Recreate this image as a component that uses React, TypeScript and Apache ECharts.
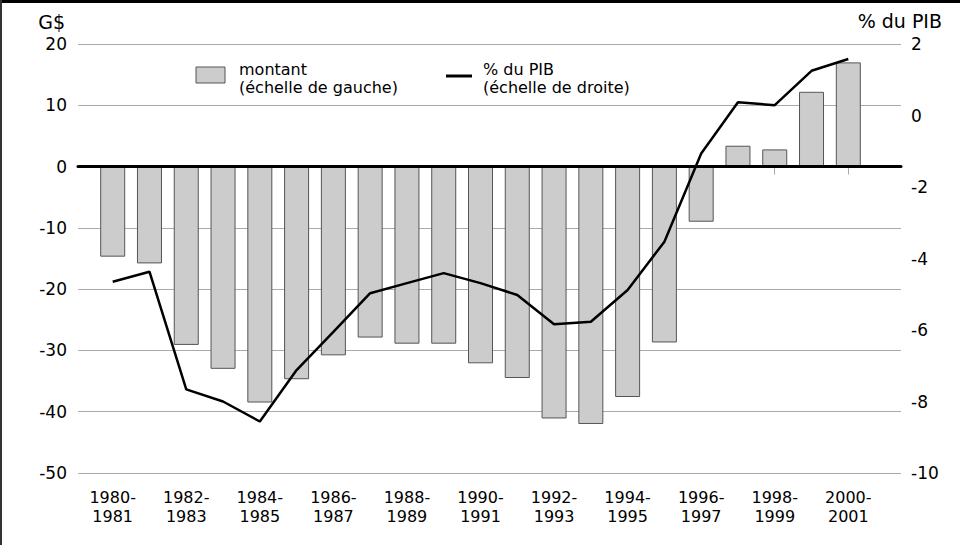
import React, { useEffect, useRef } from 'react';
import * as echarts from 'echarts';

const categories: string[] = [
  '1980-\n1981', '1981-\n1982', '1982-\n1983', '1983-\n1984', '1984-\n1985',
  '1985-\n1986', '1986-\n1987', '1987-\n1988', '1988-\n1989', '1989-\n1990',
  '1990-\n1991', '1991-\n1992', '1992-\n1993', '1993-\n1994', '1994-\n1995',
  '1995-\n1996', '1996-\n1997', '1997-\n1998', '1998-\n1999', '1999-\n2000',
  '2000-\n2001',
];

// montant, G$ (left scale)
const montant: number[] = [
  -14.7, -15.8, -29.1, -33.0, -38.5, -34.7, -30.8, -27.9, -28.9, -28.9,
  -32.1, -34.5, -41.1, -42.0, -37.6, -28.7, -9.0, 3.4, 2.8, 12.2, 17.0,
];

// % du PIB (right scale)
const pctPIB: number[] = [
  -4.65, -4.37, -7.66, -8.0, -8.56, -7.12, -6.05, -4.97, -4.69, -4.41,
  -4.69, -5.02, -5.84, -5.77, -4.88, -3.53, -1.06, 0.37, 0.29, 1.25, 1.58,
];

const leftMin = -50;
const leftMax = 20;
const leftStep = 10;
const rightMin = -10;
const rightMax = 2;
const rightStep = 2;

const FONT = 'DejaVu Sans';

export default function App() {
  const ref = useRef<HTMLDivElement>(null);

  useEffect(() => {
    if (!ref.current) return;
    const chart = echarts.init(ref.current, undefined, { renderer: 'svg' });
    const option: any = {
      animation: false,
      textStyle: { fontFamily: FONT },
      grid: [
        { left: 78, right: 59, top: 44, bottom: 72 },
        { left: 94.3, right: 93.3, top: 44, bottom: 72 },
      ],
      xAxis: [
        {
          type: 'value',
          gridIndex: 0,
          min: 0,
          max: 1,
          z: 10,
          axisLine: {
            show: true,
            onZero: true,
            onZeroAxisIndex: 0,
            lineStyle: { color: '#000', width: 3 },
          },
          axisTick: { show: false },
          axisLabel: { show: false },
          splitLine: { show: false },
        },
        {
          type: 'category',
          gridIndex: 1,
          data: categories,
          axisLine: { show: false },
          axisTick: {
            show: true,
            alignWithLabel: true,
            interval: 1,
            length: 8,
            lineStyle: { color: '#aaa', width: 1 },
          },
          axisLabel: {
            interval: 1,
            margin: 15,
            fontFamily: FONT,
            fontSize: 16,
            lineHeight: 19,
            color: '#000',
          },
        },
      ],
      yAxis: [
        {
          type: 'value',
          gridIndex: 0,
          position: 'left',
          min: leftMin,
          max: leftMax,
          interval: leftStep,
          axisLine: { show: false },
          axisTick: { show: false },
          axisLabel: { margin: 11, fontSize: 17, color: '#000', fontFamily: FONT },
          splitLine: { show: true, lineStyle: { color: '#aaa', width: 1 } },
        },
        {
          type: 'value',
          gridIndex: 0,
          position: 'right',
          min: rightMin,
          max: rightMax,
          interval: rightStep,
          axisLine: { show: false },
          axisTick: { show: false },
          axisLabel: { margin: 10, fontSize: 17, color: '#000', fontFamily: FONT },
          splitLine: { show: false },
        },
        { type: 'value', gridIndex: 1, min: leftMin, max: leftMax, show: false },
        { type: 'value', gridIndex: 1, min: rightMin, max: rightMax, show: false, position: 'right' },
      ],
      series: [
        {
          name: 'montant',
          type: 'bar',
          xAxisIndex: 1,
          yAxisIndex: 2,
          data: montant,
          barWidth: 25,
          itemStyle: { color: '#cccccc', borderColor: '#555', borderWidth: 1 },
        },
        {
          name: '% du PIB',
          type: 'line',
          xAxisIndex: 1,
          yAxisIndex: 3,
          data: pctPIB,
          symbol: 'none',
          z: 12,
          lineStyle: { color: '#000', width: 2.5 },
        },
      ],
      graphic: [
        { type: 'rect', shape: { x: 0, y: 0, width: 960, height: 3 }, style: { fill: '#000' } },
        { type: 'rect', shape: { x: 0, y: 0, width: 2, height: 545 }, style: { fill: '#333' } },
        {
          type: 'text',
          x: 65,
          y: 22,
          style: { text: 'G$', fontSize: 19, fontFamily: FONT, fill: '#000', align: 'right', verticalAlign: 'middle' },
        },
        {
          type: 'text',
          x: 942,
          y: 21,
          style: { text: '% du PIB', fontSize: 19, fontFamily: FONT, fill: '#000', align: 'right', verticalAlign: 'middle' },
        },
        {
          type: 'rect',
          shape: { x: 196, y: 67, width: 29, height: 16 },
          style: { fill: '#cccccc', stroke: '#555', lineWidth: 1 },
        },
        {
          type: 'text',
          x: 239,
          y: 60,
          style: {
            text: 'montant\n(échelle de gauche)',
            fontSize: 16,
            fontFamily: FONT,
            fill: '#000',
            lineHeight: 18,
            verticalAlign: 'top',
          },
        },
        {
          type: 'line',
          shape: { x1: 446, y1: 76, x2: 472, y2: 76 },
          style: { stroke: '#000', lineWidth: 3 },
        },
        {
          type: 'text',
          x: 483,
          y: 60,
          style: {
            text: '% du PIB\n(échelle de droite)',
            fontSize: 16,
            fontFamily: FONT,
            fill: '#000',
            lineHeight: 18,
            verticalAlign: 'top',
          },
        },
      ],
    };
    chart.setOption(option);
    return () => chart.dispose();
  }, []);

  return (
    <div
      ref={ref}
      style={{ position: 'absolute', left: 0, top: 0, width: 960, height: 545, background: '#fff' }}
    />
  );
}
